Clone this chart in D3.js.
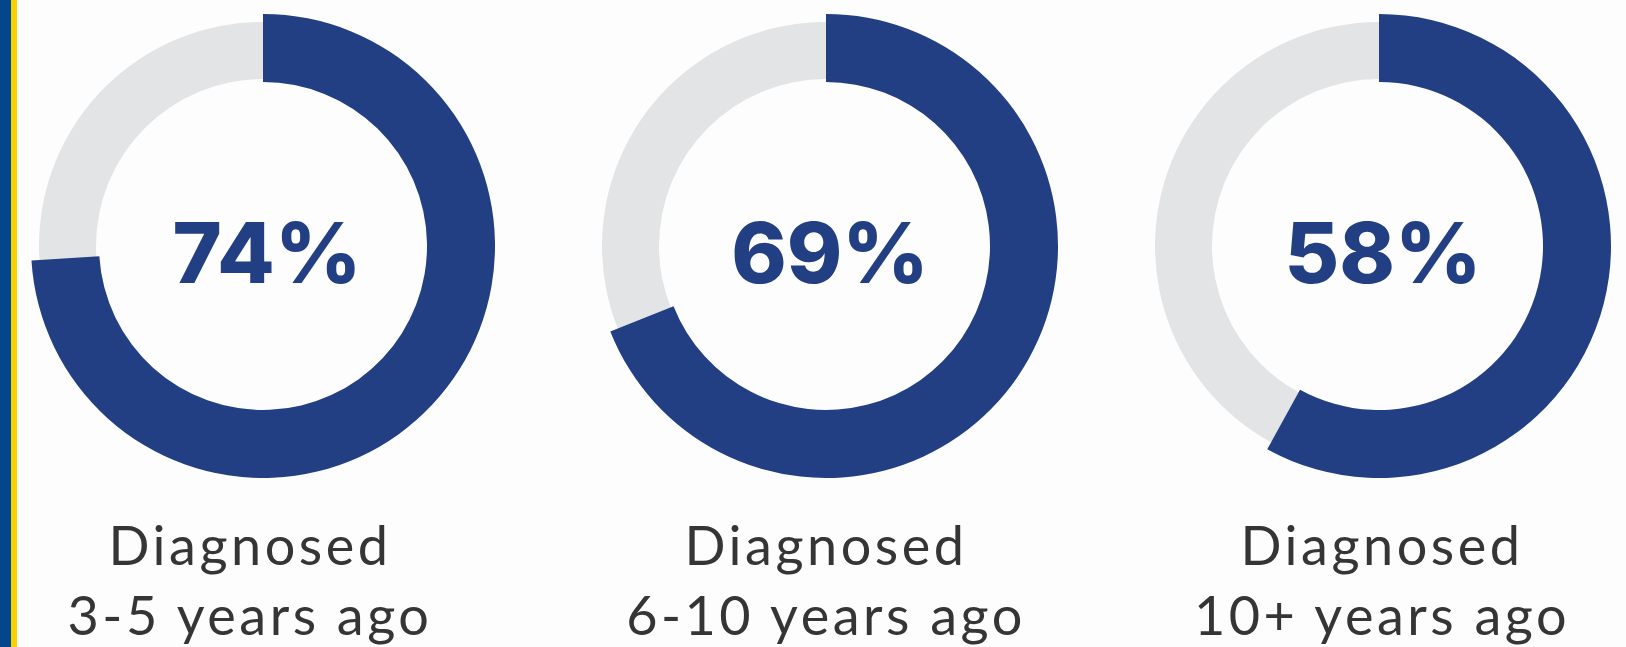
<!DOCTYPE html>
<html>
<head>
<meta charset="utf-8">
<script src="https://cdn.jsdelivr.net/npm/d3@7"></script>
<style>
  html, body { margin: 0; padding: 0; background: #fdfdfd; }
  svg { display: block; }
</style>
</head>
<body>
<div id="chart"></div>
<script>
const percents = [74, 69, 58];
const labelTop = ["Diagnosed", "Diagnosed", "Diagnosed"];
const labelBottom = ["3-5 years ago", "6-10 years ago", "10+ years ago"];

const width = 1626, height = 647;
const centers = [263, 826, 1379];
const labelX = [250, 826, 1382];
const cy = 246;

const svg = d3.select("#chart").append("svg")
    .attr("width", width)
    .attr("height", height);

// side stripe
svg.append("rect").attr("x", 0).attr("y", 0).attr("width", 11).attr("height", height).attr("fill", "#03468b");
svg.append("rect").attr("x", 11).attr("y", 0).attr("width", 6).attr("height", height).attr("fill", "#fdd000");

const angle = d3.scaleLinear().domain([0, 100]).range([0, 2 * Math.PI]);

const track = d3.arc().innerRadius(167).outerRadius(224).startAngle(0).endAngle(2 * Math.PI);
const value = d3.arc().innerRadius(164).outerRadius(232).startAngle(0);

const g = svg.selectAll(".donut")
    .data(percents)
    .join("g")
    .attr("class", "donut")
    .attr("transform", (d, i) => `translate(${centers[i]}, ${cy})`);

g.append("path")
    .attr("d", track())
    .attr("fill", "#e3e4e5");

g.append("path")
    .attr("d", d => value({endAngle: angle(d)}))
    .attr("fill", "#213f82");

g.append("text")
    .attr("x", 4)
    .attr("y", 37)
    .attr("text-anchor", "middle")
    .attr("font-family", "Inter, sans-serif")
    .attr("font-weight", 800)
    .attr("font-size", 84)
    .attr("fill", "#213f82")
    .text(d => d + "%");

const labels = svg.selectAll(".label")
    .data(labelTop)
    .join("text")
    .attr("class", "label")
    .attr("x", (d, i) => labelX[i])
    .attr("text-anchor", "middle")
    .attr("font-family", "Lato, sans-serif")
    .attr("font-size", 54)
    .attr("letter-spacing", 3.5)
    .attr("fill", "#353535");

labels.append("tspan").attr("x", (d, i) => labelX[i]).attr("y", 565).text(d => d);
labels.append("tspan").attr("x", (d, i) => labelX[i]).attr("y", 635).text((d, i) => labelBottom[i]);
</script>
</body>
</html>
